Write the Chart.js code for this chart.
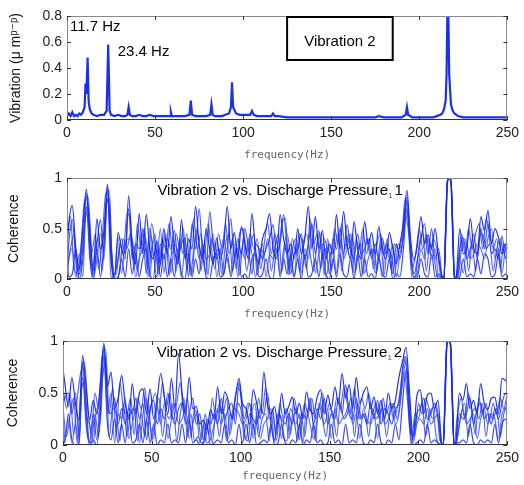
<!DOCTYPE html>
<html>
<head>
<meta charset="utf-8">
<title>Vibration 2 spectrum and coherence</title>
<script src="https://cdn.jsdelivr.net/npm/chart.js@4.4.1/dist/chart.umd.min.js"></script>
<style>
  html, body { margin: 0; padding: 0; background: #fff; }
  body { position: relative; width: 524px; height: 485px; overflow: hidden; }
  canvas { position: absolute; left: 0; }
</style>
</head>
<body>
<canvas id="vibChart" width="524" height="165" style="top:0px"></canvas>
<canvas id="coh1Chart" width="524" height="159" style="top:165px"></canvas>
<canvas id="coh2Chart" width="524" height="162" style="top:324px"></canvas>
<script>
var FONT = '"Liberation Sans", Arial, sans-serif';

// vibration spectrum (um p-p) vs frequency (Hz)
var vibFreq = [
  0, 1, 2, 3, 4, 5, 6, 7, 8, 9,
  10, 10.5, 11, 11.7, 12.3, 13, 14, 15, 17, 19,
  21, 22.5, 23.4, 24.2, 25, 27, 29, 31, 33, 34.3,
  35, 35.7, 37, 39, 41, 43, 45, 47, 49, 51,
  53, 55, 57, 58.5, 59, 59.5, 61, 63, 65, 67,
  69.5, 70.3, 71, 73, 75, 77, 79, 81.3, 82, 82.7,
  84, 86, 88, 90, 92, 93.1, 93.7, 94.3, 96, 98,
  100, 102, 104, 105, 106, 108, 110, 112, 114, 116,
  117, 118, 120, 125, 130, 135, 140, 145, 150, 155,
  160, 165, 170, 175, 177, 180, 185, 190, 192.3, 193,
  193.7, 196, 200, 205, 208, 210, 212, 213, 214, 215,
  215.5, 216, 216.5, 217, 218, 219, 220, 222, 225, 230,
  235, 240, 245, 250
];
var vibAmp = [
  .03, .05, .03, .06, .03, .04, .03, .05, .04, .06,
  .10, .28, .20, .48, .14, .08, .05, .04, .03, .04,
  .04, .07, .58, .07, .04, .03, .04, .03, .03, .04,
  .10, .04, .03, .03, .04, .03, .03, .04, .03, .03,
  .03, .03, .03, .03, .06, .03, .03, .03, .03, .03,
  .04, .15, .04, .03, .03, .03, .03, .04, .12, .04,
  .03, .03, .03, .04, .05, .10, .29, .10, .05, .04,
  .04, .04, .04, .07, .04, .03, .03, .03, .03, .03,
  .05, .03, .03, .02, .02, .02, .02, .02, .02, .02,
  .02, .02, .02, .02, .03, .02, .02, .02, .04, .10,
  .04, .02, .02, .02, .02, .03, .04, .05, .08, .15,
  .35, .85, .85, .35, .12, .07, .05, .03, .02, .02,
  .02, .02, .02, .02
];

// coherence frequency grids (Hz): odd grid and even grid records
var cohFreq = [
  0, 1, 3, 5, 7, 9, 11, 13, 15, 17,
  19, 21, 23, 25, 27, 29, 31, 33, 35, 37,
  39, 41, 43, 45, 47, 49, 51, 53, 55, 57,
  59, 61, 63, 65, 67, 69, 71, 73, 75, 77,
  79, 81, 83, 85, 87, 89, 91, 93, 95, 97,
  99, 101, 103, 105, 107, 109, 111, 113, 115, 117,
  119, 121, 123, 125, 127, 129, 131, 133, 135, 137,
  139, 141, 143, 145, 147, 149, 151, 153, 155, 157,
  159, 161, 163, 165, 167, 169, 171, 173, 175, 177,
  179, 181, 183, 185, 187, 189, 191, 193, 195, 197,
  199, 201, 203, 205, 207, 209, 211, 213, 214, 215,
  216, 217, 218, 219, 220, 221, 223, 225, 227, 229,
  231, 233, 235, 237, 239, 241, 243, 245, 247, 249,
  250
];
var cohFreqEven = [
  0, 2, 4, 6, 8, 10, 12, 14, 16, 18,
  20, 22, 24, 26, 28, 30, 32, 34, 36, 38,
  40, 42, 44, 46, 48, 50, 52, 54, 56, 58,
  60, 62, 64, 66, 68, 70, 72, 74, 76, 78,
  80, 82, 84, 86, 88, 90, 92, 94, 96, 98,
  100, 102, 104, 106, 108, 110, 112, 114, 116, 118,
  120, 122, 124, 126, 128, 130, 132, 134, 136, 138,
  140, 142, 144, 146, 148, 150, 152, 154, 156, 158,
  160, 162, 164, 166, 168, 170, 172, 174, 176, 178,
  180, 182, 184, 186, 188, 190, 192, 194, 196, 198,
  200, 202, 204, 206, 208, 210, 212, 214, 216, 218,
  220, 222, 224, 226, 228, 230, 232, 234, 236, 238,
  240, 242, 244, 246, 248, 250
];

// Vibration 2 vs. Discharge Pressure 1
var coh1A = [
  .30, .55, .73, .31, .10, .52, .89, .45, .08, .60,
  .30, .48, .94, .20, .02, .46, .30, .20, .83, .30,
  .15, .65, .25, .64, .30, .20, .38, .15, .50, .25,
  .62, .30, .15, .59, .20, .40, .30, .72, .35, .20,
  .50, .30, .15, .41, .20, .35, .72, .30, .46, .20,
  .52, .35, .20, .65, .30, .15, .40, .50, .65, .30,
  .20, .64, .40, .25, .35, .20, .50, .25, .40, .72,
  .30, .62, .30, .48, .20, .35, .25, .64, .30, .67,
  .35, .20, .57, .30, .20, .57, .35, .46, .25, .52,
  .30, .20, .46, .30, .15, .35, .55, .88, .41, .19,
  .35, .62, .35, .44, .30, .50, .22, .02, 0, .50,
  .97, 1, .97, .50, 0, .02, .50, .25, .30, .60,
  .30, .25, .62, .48, .68, .35, .50, .41, .25, .35,
  .30
];
var coh1B = [
  .05, .35, .59, .20, .05, .30, .85, .30, .05, .35,
  .59, .20, .92, .35, .05, .20, .40, .25, .70, .20,
  .35, .30, .50, .05, .50, .25, .02, .35, .20, .40,
  .30, .48, .20, .35, .40, .02, .55, .30, .70, .25,
  .05, .67, .35, .20, .30, .05, .30, .60, .20, .40,
  .25, .50, .30, .05, .35, .30, .20, .30, .40, .54,
  .25, .35, .64, .30, .05, .25, .30, .45, .20, .35,
  .55, .25, .48, .20, .30, .05, .40, .30, .50, .25,
  .54, .30, .20, .45, .25, .30, .40, .20, .35, .20,
  .41, .25, .30, .05, .35, .20, .45, .82, .35, .05,
  .20, .40, .55, .25, .50, .20, .30, .01, 0, .55,
  .98, 1, .98, .55, 0, .01, .30, .41, .20, .30,
  .45, .20, .50, .30, .55, .25, .30, .20, .43, .20,
  .35
];
var coh1C = [
  0, .20, .30, .02, .25, .02, .80, .55, 0, .20,
  .45, .30, .88, .02, .01, .41, .06, .35, .40, .35,
  .02, .20, .30, .40, .02, .38, .20, .50, .06, .30,
  .06, .35, .25, .02, .30, .20, .06, .40, .20, .35,
  .20, .25, .45, .02, .25, .40, .20, .06, .35, .02,
  .30, .20, .40, .25, .02, .20, .35, .02, .25, .20,
  .40, .06, .30, .45, .20, .02, .35, .06, .30, .20,
  .40, .06, .25, .35, .02, .20, .30, .06, .40, .20,
  .30, .45, .06, .25, .35, .06, .20, .30, .06, .25,
  .02, .35, .20, .35, .02, .25, .40, .78, .30, .02,
  .06, .30, .20, .40, .20, .30, .02, .03, 0, .45,
  .96, 1, .96, .45, 0, .03, .20, .06, .35, .20,
  .25, .35, .30, .20, .40, .50, .20, .30, .06, .30,
  .20
];
var coh1D = [
  .25, .02, .05, .30, 0, .20, .72, .20, .02, .30,
  .02, .35, .80, .30, 0, .02, .20, .02, .30, .05,
  .25, .02, .20, .30, .05, 0, .30, .02, .25, .02,
  .20, .02, .30, .05, 0, .25, .02, .20, .05, .30,
  .02, 0, .20, .25, .02, .05, .25, .02, .20, .30,
  .02, .05, 0, .20, .25, .02, .05, .20, .02, 0,
  .30, .02, .20, .05, .25, .02, .20, 0, .25, .02,
  .05, .20, .02, .25, .05, 0, .20, .02, .25, .05,
  .02, .20, 0, .25, .02, .20, .02, .05, 0, .20,
  .05, .02, .20, 0, .05, .02, .30, .70, .25, 0,
  .02, .20, .05, .02, .25, .02, .05, 0, 0, .40,
  .95, 1, .95, .40, 0, 0, .02, .20, .02, .05,
  .02, .20, .05, .25, .20, .02, .05, .25, .02, .05,
  .02
];
var coh1E = [
  .40, .62, .10, .05, .35, .78, .82, .25, .45, .10,
  .40, .85, .88, .05, .05, .35, .25, .65, .60, .10,
  .55, .30, .45, .10, .55, .35, .05, .40, .30, .55,
  .25, .45, .30, .50, .10, .35, .60, .30, .45, .25,
  .55, .30, .10, .45, .30, .55, .25, .40, .10, .45,
  .50, .25, .45, .30, .40, .10, .35, .55, .25, .45,
  .30, .55, .60, .10, .40, .25, .45, .30, .10, .60,
  .35, .45, .10, .40, .30, .25, .50, .35, .55, .30,
  .45, .10, .40, .30, .50, .25, .40, .10, .35, .45,
  .25, .40, .10, .35, .30, .40, .80, .55, .10, .25,
  .50, .30, .45, .25, .40, .30, .05, 0, 1, 1,
  0, .05, .45, .25, .50, .30, .45, .55, .30, .60,
  .45, .30, .40, .10, .35, .25
];
var coh1F = [
  .08, .30, .45, 0, .25, .55, .70, .02, .30, .40,
  .08, .70, .80, .02, 0, .08, .40, .30, .45, .30,
  .08, .35, .50, .02, .30, .45, .08, .25, .45, .04,
  .35, .08, .40, .25, .45, .04, .30, .50, .08, .35,
  .04, .40, .25, .30, .04, .35, .45, .08, .30, .04,
  .40, .08, .30, .45, .04, .30, .25, .40, .08, .30,
  .45, .08, .35, .04, .30, .40, .08, .35, .45, .25,
  .08, .35, .45, .04, .40, .08, .30, .45, .08, .35,
  .30, .45, .08, .35, .04, .40, .25, .30, .08, .40,
  .04, .30, .25, .04, .35, .30, .65, .45, 0, .04,
  .35, .45, .08, .35, .25, .04, 0, 0, 1, 1,
  0, .02, .30, .40, .08, .35, .08, .40, .45, .30,
  .35, .08, .30, .40, .25, .35
];

// Vibration 2 vs. Discharge Pressure 2
var coh2A = [
  .73, .60, .37, .65, .40, .24, .86, .56, .24, .43,
  .30, .59, .98, .56, .70, .35, .45, .67, .40, .25,
  .59, .30, .50, .54, .30, .54, .25, .45, .69, .46,
  .30, .64, .35, .88, .50, .30, .65, .35, .37, .20,
  .24, .15, .34, .25, .56, .30, .51, .43, .25, .45,
  .64, .40, .35, .20, .53, .40, .25, .70, .40, .30,
  .37, .20, .50, .30, .37, .46, .30, .40, .25, .51,
  .35, .30, .46, .53, .30, .48, .35, .56, .40, .69,
  .45, .58, .35, .65, .40, .50, .56, .35, .46, .30,
  .43, .25, .50, .35, .43, .65, .80, .94, .50, .08,
  .46, .53, .30, .48, .50, .35, .43, .02, 0, .50,
  .97, 1, .97, .50, 0, .02, .50, .43, .59, .35,
  .43, .30, .59, .40, .34, .45, .46, .30, .64, .62,
  .60
];
var coh2B = [
  .40, .45, .50, .30, .50, .05, .80, .40, .02, .30,
  .05, .45, .95, .40, .30, .45, .20, .35, .20, .35,
  .30, .45, .25, .40, .05, .35, .43, .20, .35, .25,
  .50, .30, .20, .35, .40, .20, .30, .45, .20, .30,
  .05, .25, .20, .30, .20, .45, .25, .35, .40, .20,
  .60, .30, .05, .30, .25, .20, .35, .30, .50, .20,
  .05, .30, .25, .20, .30, .20, .35, .05, .30, .25,
  .45, .20, .35, .25, .45, .20, .30, .25, .45, .30,
  .58, .30, .25, .45, .25, .30, .20, .40, .25, .43,
  .20, .35, .30, .20, .35, .40, .70, .85, .30, .05,
  .30, .35, .45, .25, .30, .40, .25, .01, 0, .55,
  .98, 1, .98, .55, 0, .01, .30, .25, .30, .45,
  .20, .35, .40, .25, .30, .20, .35, .25, .40, .50,
  .45
];
var coh2C = [
  .30, .06, .25, .02, .20, 0, .75, .30, .20, .02,
  .35, .20, .90, .30, .50, .02, .30, .25, .45, .06,
  .20, .35, .02, .30, .45, .20, .06, .35, .20, .40,
  .06, .25, .40, .20, .25, .35, .06, .20, .30, .02,
  .20, .02, .06, .20, .35, .20, .30, .06, .30, .35,
  .30, .20, .25, .40, .06, .30, .06, .20, .25, .35,
  .02, .25, .06, .35, .06, .25, .20, .30, .02, .35,
  .20, .06, .25, .40, .20, .30, .06, .35, .20, .25,
  .30, .40, .20, .30, .06, .35, .25, .20, .30, .06,
  .35, .20, .25, .40, .20, .30, .60, .80, .40, .02,
  .20, .25, .20, .35, .20, .25, .30, .03, 0, .45,
  .96, 1, .96, .45, 0, 0, .20, .35, .20, .25,
  .30, .06, .25, .35, .20, .30, .25, .06, .30, .35,
  .30
];
var coh2D = [
  .20, .02, .30, .05, 0, .02, .65, .20, 0, .05,
  0, .30, .85, .20, .05, .25, .02, .20, .02, .30,
  .02, .05, .20, .02, .25, .02, .20, 0, .05, .02,
  .20, .02, .05, .02, .20, .02, .25, .02, .05, 0,
  .02, .20, 0, .02, .05, .02, .20, .02, .05, 0,
  .20, .02, .20, .02, .20, 0, .02, .05, .02, .20,
  0, .02, .20, .02, 0, .05, .02, .20, 0, .05,
  .02, .20, .02, .05, 0, .02, .20, .02, .05, 0,
  .20, .02, .05, .02, .20, .02, 0, .05, .02, .20,
  .02, 0, .05, .02, .20, .05, .40, .72, .20, 0,
  .02, .05, .02, .20, .02, .05, .02, 0, 0, .40,
  .95, 1, .95, .40, 0, .02, .02, .05, .02, .20,
  .02, 0, .05, .02, .05, .02, .20, .02, .20, .25,
  .20
];
var coh2E = [
  .55, .35, .50, .10, .45, .70, .80, .35, .10, .50,
  .35, .85, .92, .30, .55, .10, .60, .35, .30, .45,
  .10, .45, .35, .55, .25, .40, .50, .30, .60, .35,
  .50, .25, .40, .60, .30, .45, .10, .35, .25, .05,
  .30, .10, .45, .25, .40, .30, .45, .10, .35, .55,
  .50, .25, .40, .35, .10, .45, .30, .55, .25, .30,
  .10, .40, .25, .35, .10, .45, .30, .25, .40, .30,
  .45, .25, .35, .50, .30, .40, .25, .45, .35, .55,
  .40, .30, .55, .25, .45, .35, .50, .30, .40, .25,
  .45, .30, .40, .25, .35, .55, .85, .60, .10, .10,
  .40, .30, .45, .35, .25, .40, .05, 0, 1, 1,
  0, .30, .45, .25, .50, .35, .10, .45, .30, .40,
  .25, .40, .30, .45, .35, .50
];
var coh2F = [
  .35, .08, .30, .45, .02, .50, .60, .08, .02, .30,
  .08, .60, .80, .08, .35, .30, .04, .40, .08, .30,
  .35, .04, .30, .08, .40, .04, .30, .45, .08, .30,
  .25, .40, .04, .30, .45, .08, .30, .04, .08, .02,
  .04, .25, .02, .30, .08, .35, .04, .30, .25, .40,
  .35, .08, .04, .30, .40, .08, .25, .30, .04, .35,
  .04, .30, .08, .04, .35, .25, .04, .30, .08, .35,
  .30, .04, .40, .25, .08, .35, .30, .08, .40, .25,
  .30, .45, .08, .40, .25, .30, .08, .35, .25, .30,
  .35, .08, .30, .40, .25, .45, .70, .40, 0, .30,
  .25, .40, .08, .30, .35, .08, 0, 0, 1, 1,
  0, .08, .30, .40, .08, .30, .35, .25, .40, .08,
  .30, .25, .35, .08, .30, .40
];

var peakLabels = ['11.7 Hz', '23.4 Hz'];
var boxLabel = 'Vibration 2';
var coh1Title = ['Vibration 2 vs. Discharge Pressure', '1', '1'];
var coh2Title = ['Vibration 2 vs. Discharge Pressure', '1', '2'];
var traceColors = ['rgba(20,40,240,0.95)', 'rgba(35,55,235,0.85)', 'rgba(60,80,240,0.8)', 'rgba(25,45,230,0.85)', 'rgba(45,65,240,0.8)', 'rgba(30,50,235,0.75)'];

function toPoints(xs, ys) {
  return xs.map(function(x, i) { return { x: x, y: ys[i] }; });
}

function tickText(v) {
  return String(Math.round(v * 100) / 100);
}

// MATLAB style box with inward ticks
var framePlugin = {
  id: 'frame',
  afterDatasetsDraw: function(chart) {
    var a = chart.chartArea, c = chart.ctx, xs = chart.scales.x, ys = chart.scales.y;
    c.save();
    c.lineWidth = 1;
    c.strokeStyle = '#8a8a8a';
    c.strokeRect(Math.round(a.left) + 0.5, Math.round(a.top) + 0.5, Math.round(a.right - a.left) - 1, Math.round(a.bottom - a.top) - 1);
    c.strokeStyle = '#333';
    c.beginPath();
    c.moveTo(a.left, Math.round(a.bottom) - 0.5);
    c.lineTo(a.right, Math.round(a.bottom) - 0.5);
    xs.ticks.forEach(function(t) {
      var px = Math.round(xs.getPixelForValue(t.value)) + 0.5;
      c.moveTo(px, a.bottom); c.lineTo(px, a.bottom - 4);
      c.moveTo(px, a.top); c.lineTo(px, a.top + 4);
    });
    ys.ticks.forEach(function(t) {
      var py = Math.round(ys.getPixelForValue(t.value)) + 0.5;
      c.moveTo(a.left, py); c.lineTo(a.left + 4, py);
      c.moveTo(a.right, py); c.lineTo(a.right - 4, py);
    });
    c.stroke();
    c.restore();
  }
};

var vibNotes = {
  id: 'vibNotes',
  afterDatasetsDraw: function(chart) {
    var c = chart.ctx, xs = chart.scales.x, ys = chart.scales.y;
    c.save();
    c.fillStyle = '#000';
    c.font = '15px ' + FONT;
    c.textBaseline = 'middle';
    c.textAlign = 'left';
    c.fillText(peakLabels[0], xs.getPixelForValue(1.7), ys.getPixelForValue(0.715));
    c.fillText(peakLabels[1], xs.getPixelForValue(28.8), ys.getPixelForValue(0.523));
    var x0 = xs.getPixelForValue(124.4), x1 = xs.getPixelForValue(185.5);
    var y0 = ys.getPixelForValue(0.8), y1 = ys.getPixelForValue(0.454);
    c.fillStyle = '#fff';
    c.fillRect(x0, y0, x1 - x0, y1 - y0);
    c.lineWidth = 2;
    c.strokeStyle = '#000';
    c.strokeRect(x0 + 1, y0 + 1, x1 - x0 - 2, y1 - y0 - 2);
    c.fillStyle = '#000';
    c.textAlign = 'center';
    c.fillText(boxLabel, (x0 + x1) / 2, ys.getPixelForValue(0.6));
    c.restore();
  }
};

function titlePlugin(parts, fx, fy) {
  return {
    id: 'panelTitle',
    afterDatasetsDraw: function(chart) {
      var c = chart.ctx, xs = chart.scales.x, ys = chart.scales.y;
      c.save();
      c.textBaseline = 'alphabetic';
      c.textAlign = 'left';
      c.font = '15px ' + FONT;
      var w0 = c.measureText(parts[0]).width;
      var w2 = c.measureText(parts[2]).width;
      c.font = '8px ' + FONT;
      var w1 = c.measureText(parts[1]).width;
      var left = xs.getPixelForValue(fx) - (w0 + w1 + w2 + 2) / 2;
      var base = ys.getPixelForValue(fy) + 5;
      c.font = '15px ' + FONT;
      c.fillStyle = '#000';
      c.fillText(parts[0], left, base);
      c.fillText(parts[2], left + w0 + w1 + 2, base);
      c.font = '8px ' + FONT;
      c.fillStyle = '#6b5a10';
      c.fillText(parts[1], left + w0, base + 3);
      c.restore();
    }
  };
}

function makeChart(id, cfg) {
  return new Chart(document.getElementById(id), {
    type: 'line',
    data: { datasets: cfg.datasets },
    options: {
      responsive: false,
      animation: false,
      events: [],
      layout: { padding: { top: cfg.top, right: cfg.right, left: 0, bottom: 0 } },
      plugins: { legend: { display: false }, tooltip: { enabled: false } },
      elements: { point: { radius: 0 } },
      scales: {
        x: {
          type: 'linear',
          min: 0,
          max: 250,
          grid: { display: false, drawTicks: false },
          border: { display: false },
          ticks: { stepSize: 50, padding: 5, maxRotation: 0, color: '#222', font: { family: FONT, size: 14 } },
          title: { display: true, text: 'frequency(Hz)', color: '#666', font: { family: '"DejaVu Sans Mono", monospace', size: 11 }, padding: { top: 0, bottom: 3 } },
          afterFit: function(s) { s.height = cfg.xHeight; }
        },
        y: {
          min: 0,
          max: cfg.yMax,
          grid: { display: false, drawTicks: false },
          border: { display: false },
          ticks: { stepSize: cfg.yStep, padding: 5, color: '#222', font: { family: FONT, size: 14 }, callback: tickText },
          title: { display: true, text: cfg.yTitle, color: '#111', font: { family: FONT + ', "DejaVu Sans"', size: 14 }, padding: { top: cfg.titlePad, bottom: 0 } },
          afterFit: function(s) { s.width = cfg.yWidth; }
        }
      }
    },
    plugins: [framePlugin].concat(cfg.plugins)
  });
}

function cohSets(odd, even) {
  var sets = odd.map(function(vals, i) {
    return { data: toPoints(cohFreq, vals), borderColor: traceColors[i] };
  });
  even.forEach(function(vals, i) {
    sets.push({ data: toPoints(cohFreqEven, vals), borderColor: traceColors[4 + i] });
  });
  sets.forEach(function(s) {
    s.borderWidth = 1.2;
    s.cubicInterpolationMode = 'monotone';
    s.pointRadius = 0;
    s.fill = false;
  });
  return sets;
}

makeChart('vibChart', {
  top: 16, right: 15, xHeight: 45, yWidth: 67, yMax: 0.8, yStep: 0.2, titlePad: 8,
  yTitle: 'Vibration (\u03bc m\u1d56\u207b\u1d56)',
  datasets: [{ data: toPoints(vibFreq, vibAmp), borderColor: '#1a30f0', borderWidth: 2.2, tension: 0, pointRadius: 0, fill: false }],
  plugins: [vibNotes]
});

makeChart('coh1Chart', {
  top: 11, right: 15, xHeight: 45, yWidth: 67, yMax: 1, yStep: 0.5, titlePad: 6,
  yTitle: 'Coherence',
  datasets: cohSets([coh1A, coh1B, coh1C, coh1D], [coh1E, coh1F]),
  plugins: [titlePlugin(coh1Title, 121, 0.88)]
});

makeChart('coh2Chart', {
  top: 17, right: 12, xHeight: 41, yWidth: 63, yMax: 1, yStep: 0.5, titlePad: 5,
  yTitle: 'Coherence',
  datasets: cohSets([coh2A, coh2B, coh2C, coh2D], [coh2E, coh2F]),
  plugins: [titlePlugin(coh2Title, 121.8, 0.89)]
});
</script>
</body>
</html>
